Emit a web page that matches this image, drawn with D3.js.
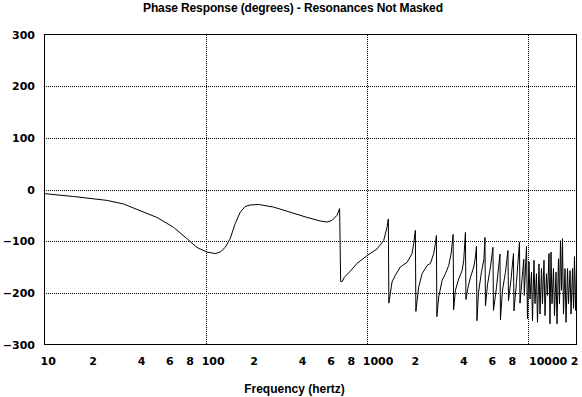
<!DOCTYPE html>
<html>
<head>
<meta charset="utf-8">
<script src="https://cdn.jsdelivr.net/npm/d3@7"></script>
<style>
  html, body { margin: 0; padding: 0; background: #fff; }
  svg { display: block; }
</style>
</head>
<body>
<div id="chart"></div>
<script>
// frequency (Hz) and phase (degrees)
const freqHz = [
  10, 15.1, 24.3, 30.9, 39.2, 49.8, 63.1, 76.4, 88.2, 92.4, 101.7, 114.6, 123.1, 132.2, 142, 152.5,
  163.8, 175.9, 189, 212.8, 263.7, 334.7, 425.3, 514.3, 565.8, 607.9, 653, 678, 688, 704, 725, 790,
  869, 1003, 1157, 1272, 1335, 1360, 1370,
  1434, 1503, 1614, 1777, 1909, 1953, 2001, 2015, 2098, 2203, 2366, 2480, 2600, 2663, 2702, 2721,
  2792, 2932, 3073, 3223, 3334, 3431, 3456, 3546, 3717, 3902, 3993, 4091, 4120, 4228, 4395, 4608,
  4721, 4789, 4823, 4928, 5143, 5330, 5407, 5446, 5604, 5849, 6062, 6105, 6373, 6700, 6748, 6944,
  7248, 7513, 7568, 7843, 8127, 8185, 8483, 8855, 8920, 9177, 9417, 9485, 9788, 9929,
  10144, 10290, 10513, 10664, 10896, 11053, 11291, 11455, 11703, 11872, 12130, 12301, 12570, 12752,
  13024, 13213, 13502, 13697, 13895, 14095, 14395, 14601, 14925, 15140, 15467, 15689, 15907, 16144,
  16368, 16609, 16974, 17218, 17592, 17833, 18236, 18498, 18899, 19172, 19429, 19727, 20000
];
const phaseDeg = [
  -8, -13.5, -21, -28, -41, -54, -73, -95, -112, -115, -121, -124, -121, -112, -95, -66,
  -44, -33, -30, -29, -34, -44, -54, -61, -63, -60, -50, -37, -178, -178, -170, -158,
  -143, -128, -115, -99, -73, -57, -220,
  -179, -166, -150, -141, -124, -105, -79, -236, -189, -163, -147, -143, -124, -105, -89, -246,
  -208, -176, -163, -147, -124, -87, -233, -195, -173, -157, -137, -83, -213, -192, -170, -150,
  -131, -110, -254, -200, -160, -135, -93, -225, -185, -150, -112, -234, -190, -125, -252, -195,
  -160, -118, -215, -175, -124, -235, -180, -102, -220, -175, -135, -205, -110, -250,
  -140, -212, -160, -254, -137, -221, -163, -257, -144, -241, -153, -221, -137, -244,
  -163, -205, -124, -260, -121, -221, -153, -244, -160, -260, -134, -221, -99, -195,
  -95, -241, -153, -257, -153, -221, -157, -241, -153, -230, -130, -234, -150
];

const yTicks = [-300, -200, -100, 0, 100, 200, 300];
const yGrid = [-200, -100, 0, 100, 200];
const xTickValues = [10, 20, 40, 60, 80, 100, 200, 400, 600, 800, 1000, 2000, 4000, 6000, 8000, 10000, 20000];
const xTickLabels = ["10", "2", "4", "6", "8", "100", "2", "4", "6", "8", "1000", "2", "4", "6", "8", "10000", "2"];
const xGrid = [100, 1000, 10000];

const titleText = "Phase Response (degrees) - Resonances Not Masked";
const xTitle = "Frequency (hertz)";

const width = 582, height = 397;
const plot = { left: 44.5, right: 576.5, top: 34.5, bottom: 344.5 };

const numFont = "'DejaVu Sans', sans-serif";
const textFont = "'Liberation Sans', Arial, sans-serif";

const svg = d3.select("#chart").append("svg")
    .attr("width", width)
    .attr("height", height);

const x = d3.scaleLog().domain([10, 20000]).range([plot.left, plot.right]);
const y = d3.scaleLinear().domain([-300, 300]).range([plot.bottom, plot.top]);

// dotted grid
svg.append("g")
    .attr("stroke", "#000")
    .attr("stroke-dasharray", "1,1")
    .attr("shape-rendering", "crispEdges")
  .selectAll("line")
  .data(yGrid)
  .join("line")
    .attr("x1", plot.left + 1).attr("x2", plot.right)
    .attr("y1", d => Math.round(y(d)) + 0.5).attr("y2", d => Math.round(y(d)) + 0.5);

svg.append("g")
    .attr("stroke", "#000")
    .attr("stroke-dasharray", "1,1")
    .attr("shape-rendering", "crispEdges")
  .selectAll("line")
  .data(xGrid)
  .join("line")
    .attr("x1", d => Math.round(x(d)) + 0.5).attr("x2", d => Math.round(x(d)) + 0.5)
    .attr("y1", plot.top).attr("y2", plot.bottom);

// the phase curve
svg.append("defs").append("clipPath").attr("id", "clip")
  .append("rect")
    .attr("x", plot.left).attr("y", plot.top)
    .attr("width", plot.right - plot.left).attr("height", plot.bottom - plot.top);

const line = d3.line()
    .x((d, i) => x(freqHz[i]))
    .y(d => y(d));

svg.append("path")
    .datum(phaseDeg)
    .attr("clip-path", "url(#clip)")
    .attr("fill", "none")
    .attr("stroke", "#000")
    .attr("stroke-width", 1)
    .attr("d", line);

// frame
svg.append("rect")
    .attr("x", plot.left).attr("y", plot.top)
    .attr("width", plot.right - plot.left).attr("height", plot.bottom - plot.top)
    .attr("fill", "none")
    .attr("stroke", "#000")
    .attr("shape-rendering", "crispEdges");

// y axis labels
svg.append("g")
    .attr("font-family", numFont)
    .attr("font-weight", "bold")
    .attr("font-size", 11)
    .attr("text-anchor", "end")
  .selectAll("text")
  .data(yTicks)
  .join("text")
    .attr("x", 35)
    .attr("y", d => y(d) + 4)
    .text(d => d < 0 ? "\u2212" + Math.abs(d) : d);

// x axis labels (decades start just left of their grid line)
const isDecade = d => Math.abs(Math.log10(d) - Math.round(Math.log10(d))) < 1e-9;
svg.append("g")
    .attr("font-family", numFont)
    .attr("font-weight", "bold")
    .attr("font-size", 11)
  .selectAll("text")
  .data(xTickValues)
  .join("text")
    .attr("y", 365)
    .attr("text-anchor", d => isDecade(d) ? "start" : "middle")
    .attr("x", d => {
      if (d === 10000) return x(d) + 1;
      if (d === 20000) return x(d) - 2;
      return isDecade(d) ? x(d) - 4 : x(d);
    })
    .text((d, i) => xTickLabels[i]);

// titles
svg.append("text")
    .attr("x", 293).attr("y", 12)
    .attr("text-anchor", "middle")
    .attr("font-family", textFont)
    .attr("font-weight", "bold")
    .attr("font-size", 12)
    .attr("textLength", 300)
    .attr("lengthAdjust", "spacing")
    .text(titleText);

svg.append("text")
    .attr("x", 294.5).attr("y", 393)
    .attr("text-anchor", "middle")
    .attr("font-family", textFont)
    .attr("font-weight", "bold")
    .attr("font-size", 12)
    .text(xTitle);
</script>
</body>
</html>
